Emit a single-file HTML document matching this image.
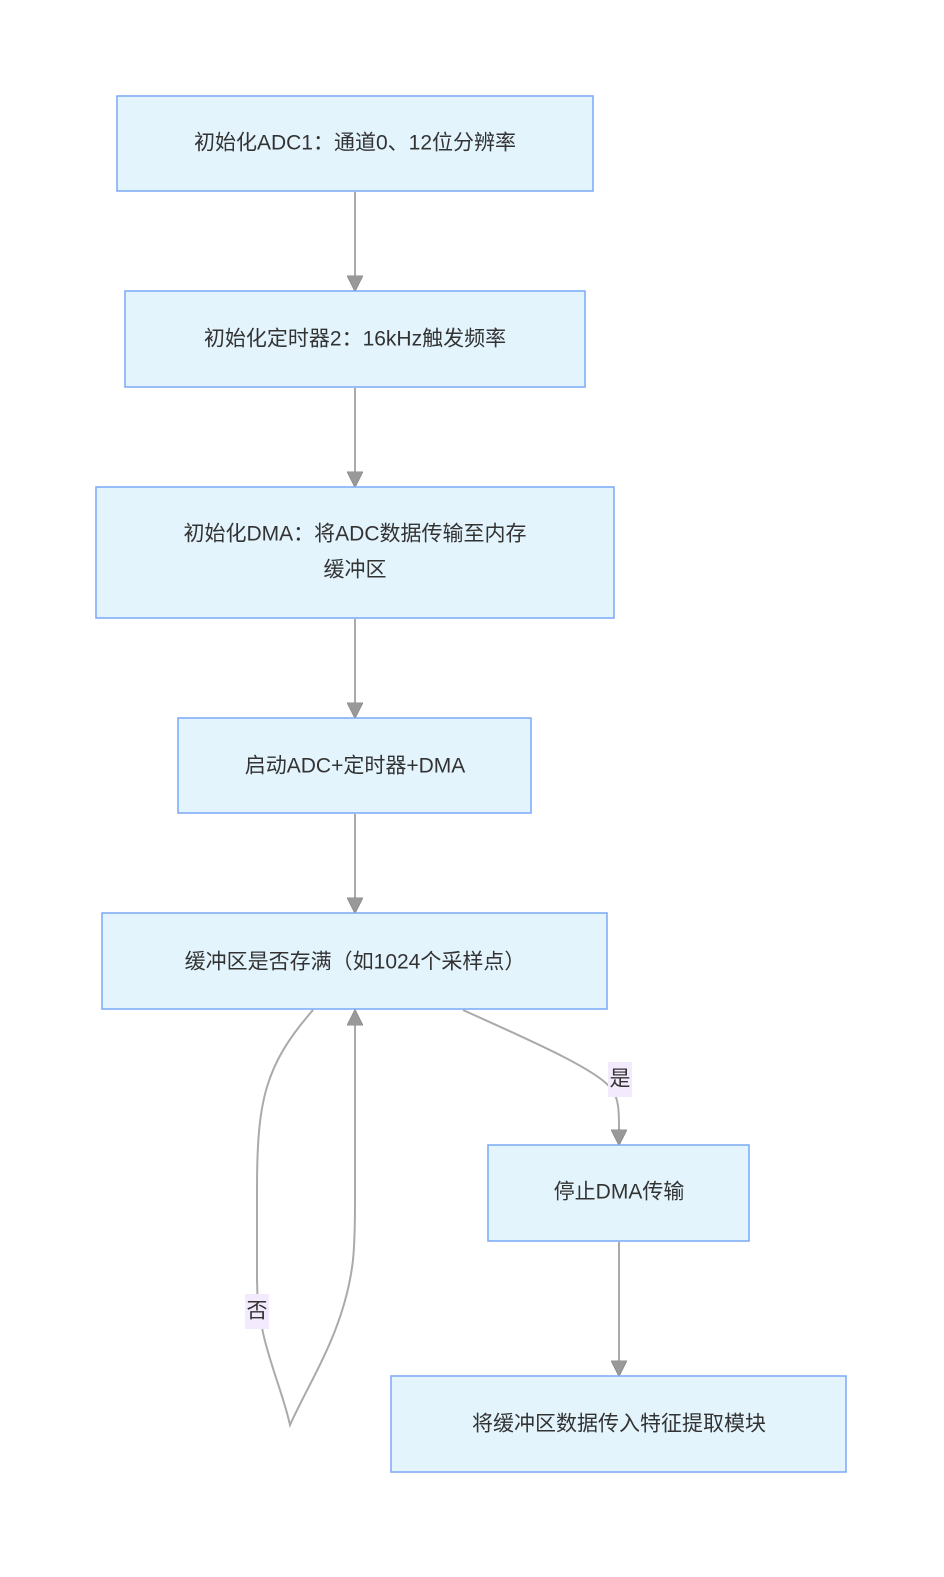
<!DOCTYPE html>
<html><head><meta charset="utf-8"><style>
body{margin:0;background:#fff;}
svg text{font-family:"Liberation Sans","Noto Sans CJK SC",sans-serif;font-size:21px;fill:#333;text-anchor:middle;dominant-baseline:central;}
</style></head><body>
<svg width="944" height="1572" viewBox="0 0 944 1572" xmlns="http://www.w3.org/2000/svg">
<defs><marker id="a" viewBox="0 0 10 10" refX="9" refY="5" markerWidth="8" markerHeight="8" markerUnits="userSpaceOnUse" orient="auto"><path d="M0,0L10,5L0,10z" fill="#999" stroke="#888" stroke-width="0.5"/></marker>
<marker id="ah" viewBox="0 0 10 10" refX="9" refY="5" markerWidth="16" markerHeight="16" markerUnits="userSpaceOnUse" orient="auto"><path d="M0,0L10,5L0,10z" fill="#999" stroke="#888" stroke-width="0.5"/></marker></defs>
<g fill="none" stroke="#aaa" stroke-width="2">
<path d="M355,192V290" marker-end="url(#ah)"/>
<path d="M355,388V486" marker-end="url(#ah)"/>
<path d="M355,619V717" marker-end="url(#ah)"/>
<path d="M355,814V912" marker-end="url(#ah)"/>
<path d="M619,1242V1375" marker-end="url(#ah)"/>
<path d="M463,1010C520,1036 600,1070 612,1090C620,1100 619,1115 619,1144" marker-end="url(#ah)"/>
<path d="M313,1010C265,1065 257,1100 257,1190V1280C257,1340 280,1380 290,1425C310,1380 345,1330 353,1260C355,1240 355,1220 355,1200V1011" marker-end="url(#ah)"/>
</g>
<g fill="#e3f4fd" stroke="#7aa9f7" stroke-width="1.5">
<rect x="117" y="96" width="476" height="95"/>
<rect x="125" y="291" width="460" height="96"/>
<rect x="96" y="487" width="518" height="131"/>
<rect x="178" y="718" width="353" height="95"/>
<rect x="102" y="913" width="505" height="96"/>
<rect x="488" y="1145" width="261" height="96"/>
<rect x="391" y="1376" width="455" height="96"/>
</g>
<rect x="245" y="1294" width="24" height="35" fill="#f3eafd"/>
<rect x="608" y="1062" width="24" height="35" fill="#f3eafd"/>
<text x="355" y="143">初始化ADC1：通道0、12位分辨率</text>
<text x="355" y="339">初始化定时器2：16kHz触发频率</text>
<text x="355" y="534">初始化DMA：将ADC数据传输至内存</text>
<text x="355" y="570">缓冲区</text>
<text x="355" y="766">启动ADC+定时器+DMA</text>
<text x="355" y="962">缓冲区是否存满（如1024个采样点）</text>
<text x="619" y="1192">停止DMA传输</text>
<text x="619" y="1424">将缓冲区数据传入特征提取模块</text>
<text x="257" y="1311">否</text>
<text x="620" y="1079">是</text>
</svg>
</body></html>
